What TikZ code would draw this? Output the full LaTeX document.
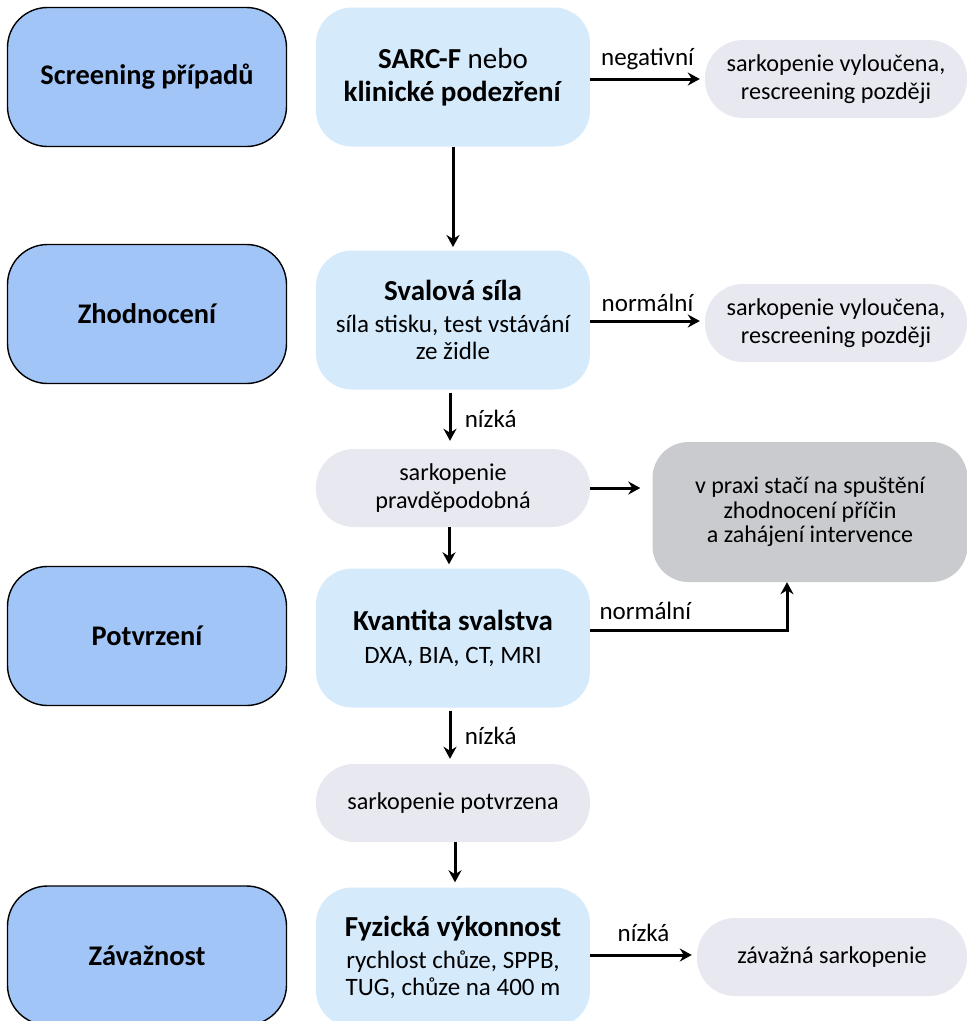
\documentclass[tikz,border=0pt]{standalone}
\usepackage{fontspec}
\setmainfont{Carlito}
\definecolor{phaseblue}{HTML}{A2C5F8}
\definecolor{stepblue}{HTML}{D5EAFB}
\definecolor{resgray}{HTML}{E8E8F1}
\definecolor{notegray}{HTML}{C9CBCE}
\usetikzlibrary{arrows.meta,positioning,calc}

\begin{document}
\begin{tikzpicture}[x=1pt,y=-1pt,font=\fontsize{25}{27}\selectfont,
 phase/.style={draw=black,line width=1.4pt,fill=phaseblue,rounded corners=40pt,%
   minimum width=279pt,minimum height=139pt,align=center,%
   font=\fontsize{28.4}{32}\selectfont\bfseries},
 stepbox/.style={fill=stepblue,rounded corners=36pt,minimum width=274pt,%
   minimum height=139pt,align=center,inner sep=2pt},
 result/.style={fill=resgray,rounded corners=38pt,minimum height=78pt,%
   align=center,font=\fontsize{24.2}{28}\selectfont},
 arr/.style={-{Stealth[length=12pt,width=13pt]},line width=3pt}]
\useasboundingbox (0,0) rectangle (967,1021);
\node[phase] (p1) at (147,77) {Screening případů};
\node[phase] (p2) at (147,314) {Zhodnocení};
\node[phase] (p3) at (147,636) {Potvrzení};
\node[phase] (p4) at (147,955.5) {Závažnost};
\node[stepbox,font=\fontsize{29}{33}\selectfont] (sf) at (453,77) {\textbf{SARC-F} nebo\\\textbf{klinické podezření}};
\node[stepbox] (ss) at (453,320) {{\fontsize{29}{33}\selectfont\bfseries Svalová síla}\\[5pt]síla stisku, test vstávání\\ze židle};
\node[result,minimum width=274pt] (pr) at (453,488) {sarkopenie\\pravděpodobná};
\node[stepbox] (kv) at (453,638) {{\fontsize{29}{33}\selectfont\bfseries Kvantita svalstva}\\[6pt]DXA, BIA, CT, MRI};
\node[result,minimum width=274pt] (po) at (453,803) {sarkopenie potvrzena};
\node[stepbox] (fv) at (453,957) {{\fontsize{29}{33}\selectfont\bfseries Fyzická výkonnost}\\[5pt]rychlost chůze, SPPB,\\TUG, chůze na 400 m};
\node[result,minimum width=262pt] (v1) at (836,79) {sarkopenie vyloučena,\\rescreening později};
\node[result,minimum width=262pt] (v2) at (836,323) {sarkopenie vyloučena,\\rescreening později};
\node[result,fill=notegray,minimum width=315pt,minimum height=140pt,rounded corners=36pt,%
  font=\fontsize{24}{24.5}\selectfont] (pi) at (810,512) {v praxi stačí na spuštění\\zhodnocení příčin\\a zahájení intervence};
\node[result,minimum width=270pt] (zs) at (832,957) {závažná sarkopenie};
\draw[arr] (sf) -- (ss.north |- 0,247);%
\draw[arr,shorten >=5pt] ([yshift=-2pt]sf.east) -- ([yshift=-2pt]sf.east -| v1.west) node[midway,above=4pt] {negativní};%
\draw[arr,shorten >=5pt] ([yshift=-1pt]ss.east) -- ([yshift=-1pt]ss.east -| v2.west) node[midway,above=4pt] {normální};%
\draw[arr,shorten <=3pt,shorten >=8pt] ([xshift=-3pt]ss.south) -- ([xshift=-3pt]pr.north) node[midway,right=10pt] {nízká};%
\draw[arr,shorten >=12pt] (pr.east) -- (pr.east -| pi.west);%
\draw[arr,shorten >=4pt] ([xshift=-4pt]pr.south) -- ([xshift=-4pt]kv.north);%
\draw[arr] ([yshift=8pt]kv.east) -| ([xshift=-23pt]pi.south) node[pos=0.14,above=5pt] {normální};%
\draw[arr,shorten <=3pt,shorten >=5pt] ([xshift=-3pt]kv.south) -- ([xshift=-3pt]po.north) node[midway,right=10pt] {nízká};%
\draw[arr,shorten >=5pt] ([xshift=2pt]po.south) -- ([xshift=2pt]po.south |- fv.north);%
\draw[arr,shorten >=5pt] ([yshift=2pt]fv.east) -- ([yshift=2pt]fv.east -| zs.west) node[midway,above=8pt] {nízká};
\end{tikzpicture}
\end{document}
